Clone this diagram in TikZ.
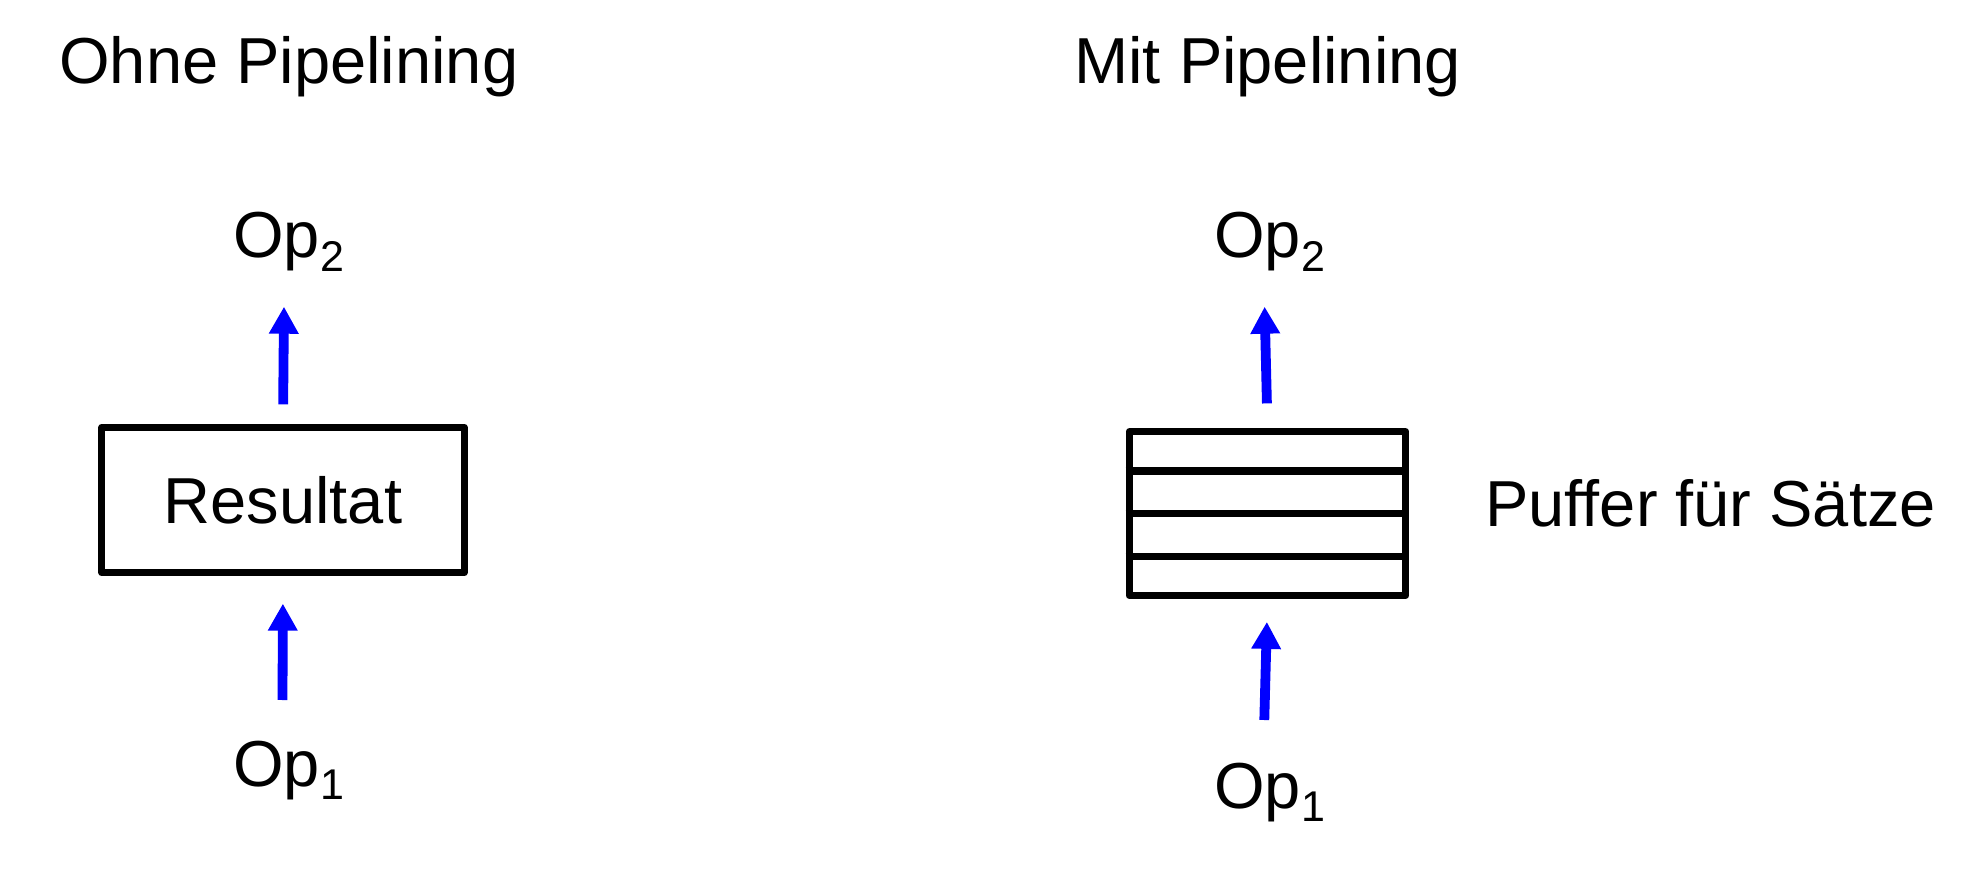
\documentclass[tikz,border=0pt]{standalone}
\usepackage{fontspec}
\setmainfont[Ligatures={NoCommon}]{Liberation Sans}
\usetikzlibrary{arrows.meta,calc}
\newcommand{\opsub}[1]{\raisebox{-0.21em}{\fontsize{21.5pt}{22pt}\selectfont #1}}
\tikzset{
  lbl/.style={inner sep=0pt, font=\fontsize{32.5pt}{36pt}\selectfont, anchor=base west},
  boxnode/.style={draw, line width=3.6pt, line join=round, inner sep=0pt},
  arr/.style={draw=blue, line width=4.9pt, -{Triangle[length=13.5pt,width=14pt]}},
}
\begin{document}
\begin{tikzpicture}[x=0.5pt,y=-0.5pt]
\useasboundingbox (0,0) rectangle (1977,882);
% titles
\node[lbl] (t1) at (59,84) {Ohne Pipelining};
\node[lbl] (t2) at (1074,84) {Mit Pipelining};
% left
\node[lbl] (lop2) at (233,258) {Op\opsub{2}};
\node[lbl] (lop1) at (233,786) {Op\opsub{1}};
\node[boxnode, minimum width=181.2pt, minimum height=72.5pt,
      font=\fontsize{32.5pt}{36pt}\selectfont] (res) at (283,500) {Resultat};
\coordinate (ltip) at (284,306.7);
\coordinate (ltail) at (282.5,700);
\draw[arr, shorten <=9.75pt] (res.north) -- (ltip);
\draw[arr, shorten >=13.75pt] (ltail) -- (res.south);
% right
\node[lbl] (rop2) at (1214,258) {Op\opsub{2}};
\node[lbl] (rop1) at (1214,808) {Op\opsub{1}};
\node[boxnode, minimum width=138.3pt, minimum height=81.85pt] (buf) at (1267.5,513.65) {};
\foreach \f in {0.25,0.5,0.75}
  \draw[line width=3.6pt] ($(buf.north west)!\f!(buf.south west)$) -- ($(buf.north east)!\f!(buf.south east)$);
\node[lbl] (puf) at (1485,526) {Puffer für Sätze};
\coordinate (rtip) at (1264.6,306.7);
\coordinate (rtail) at (1264.3,720);
\draw[arr, shorten <=12.4pt] (buf.north) -- (rtip);
\draw[arr, shorten >=11.4pt] (rtail) -- (buf.south);
\end{tikzpicture}
\end{document}
